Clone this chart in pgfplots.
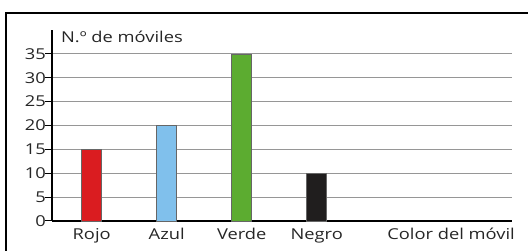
\documentclass[border=0pt]{standalone}
\usepackage{pgfplots}
\pgfplotsset{compat=1.18}
\usepackage{fontspec}
\setmainfont{Open Sans}[FakeStretch=1.22]
\definecolor{rojo}{RGB}{218,28,32}
\definecolor{azul}{RGB}{128,192,236}
\definecolor{verde}{RGB}{92,172,48}
\definecolor{negro}{RGB}{32,30,30}
\definecolor{gridgray}{RGB}{150,150,150}
\begin{document}
\begin{tikzpicture}[x=1pt,y=1pt]
\useasboundingbox (0,0) rectangle (528,251);
\draw[line width=1.3pt] (6,0) -- (6,238) -- (528.5,238);
\begin{axis}[
  at={(52pt,30pt)}, anchor=south west,
  scale only axis, width=460pt, height=191pt,
  xmin=0.4707, xmax=6.604, ymin=0, ymax=40,
  axis x line*=bottom, axis y line*=left,
  axis line style={line width=1.3pt, -},
  ytick={0,5,...,35},
  xtick={1,2,3,4},
  xticklabels={Rojo,Azul,Verde,Negro},
  x tick style={draw=none},
  y tick style={line width=1pt, black},
  tick align=outside, major tick length=7pt,
  ymajorgrids, grid style={gridgray, line width=0.9pt},
  ticklabel style={font=\fontsize{15}{17}\selectfont, text=black!85},
  /pgf/number format/assume math mode=true,
  xticklabel style={anchor=base, yshift=-12pt, inner sep=0pt},
  yticklabel style={anchor=east, inner sep=0pt, xshift=1pt},
  ybar, bar width=20pt,
  clip=false,
]
\addplot[bar shift=0pt, fill=rojo, draw=black!60, line width=0.4pt] coordinates {(1,15)};
\addplot[bar shift=0pt, fill=azul, draw=black!60, line width=0.4pt] coordinates {(2,20)};
\addplot[bar shift=0pt, fill=verde, draw=black!60, line width=0.4pt] coordinates {(3,35)};
\addplot[bar shift=0pt, fill=negro, draw=black!60, line width=0.4pt] coordinates {(4,10)};
\node[anchor=base west, inner sep=0pt, font=\fontsize{15}{17}\selectfont, text=black!85, xshift=9pt, yshift=-13pt] at (rel axis cs:0,1) {N.º de móviles};
\node[anchor=base east, inner sep=0pt, font=\fontsize{15}{17}\selectfont, text=black!85, xshift=3pt, yshift=-19pt] at (rel axis cs:1,0) {Color del móvil};
\end{axis}
\end{tikzpicture}
\end{document}
